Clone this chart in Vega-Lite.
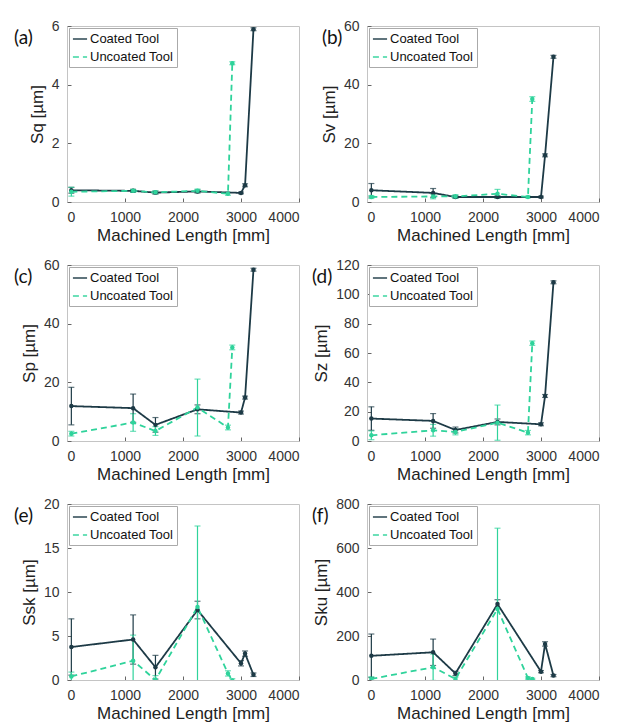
{
  "$schema": "https://vega.github.io/schema/vega-lite/v6.json",
  "background": "white",
  "padding": {"left": 13, "top": 18, "right": 5, "bottom": 5},
  "data": {"values": [
    {"p": "a", "t": "Coated Tool", "x": 75, "y": 0.40, "e": 0.10},
    {"p": "a", "t": "Coated Tool", "x": 1140, "y": 0.38, "e": 0.05},
    {"p": "a", "t": "Coated Tool", "x": 1525, "y": 0.32, "e": 0.05},
    {"p": "a", "t": "Coated Tool", "x": 2250, "y": 0.36, "e": 0.05},
    {"p": "a", "t": "Coated Tool", "x": 3000, "y": 0.31, "e": 0.03},
    {"p": "a", "t": "Coated Tool", "x": 3070, "y": 0.57, "e": 0.05},
    {"p": "a", "t": "Coated Tool", "x": 3215, "y": 5.89, "e": 0.05},
    {"p": "a", "t": "Uncoated Tool", "x": 75, "y": 0.35, "e": 0.15},
    {"p": "a", "t": "Uncoated Tool", "x": 1140, "y": 0.38, "e": 0.05},
    {"p": "a", "t": "Uncoated Tool", "x": 1525, "y": 0.33, "e": 0.05},
    {"p": "a", "t": "Uncoated Tool", "x": 2250, "y": 0.38, "e": 0.06},
    {"p": "a", "t": "Uncoated Tool", "x": 2775, "y": 0.28, "e": 0.05},
    {"p": "a", "t": "Uncoated Tool", "x": 2850, "y": 4.73, "e": 0.05},

    {"p": "b", "t": "Coated Tool", "x": 75, "y": 4.0, "e": 2.3},
    {"p": "b", "t": "Coated Tool", "x": 1140, "y": 3.1, "e": 1.5},
    {"p": "b", "t": "Coated Tool", "x": 1525, "y": 1.7, "e": 0.4},
    {"p": "b", "t": "Coated Tool", "x": 2250, "y": 1.7, "e": 0.4},
    {"p": "b", "t": "Coated Tool", "x": 3000, "y": 1.7, "e": 0.3},
    {"p": "b", "t": "Coated Tool", "x": 3070, "y": 15.9, "e": 0.5},
    {"p": "b", "t": "Coated Tool", "x": 3215, "y": 49.5, "e": 0.5},
    {"p": "b", "t": "Uncoated Tool", "x": 75, "y": 1.7, "e": 0.5},
    {"p": "b", "t": "Uncoated Tool", "x": 1140, "y": 1.9, "e": 0.8},
    {"p": "b", "t": "Uncoated Tool", "x": 1525, "y": 1.9, "e": 0.6},
    {"p": "b", "t": "Uncoated Tool", "x": 2250, "y": 2.8, "e": 1.5},
    {"p": "b", "t": "Uncoated Tool", "x": 2775, "y": 1.7, "e": 0.3},
    {"p": "b", "t": "Uncoated Tool", "x": 2850, "y": 35.1, "e": 0.8},

    {"p": "c", "t": "Coated Tool", "x": 75, "y": 11.9, "e": 6.4},
    {"p": "c", "t": "Coated Tool", "x": 1140, "y": 11.2, "e": 4.8},
    {"p": "c", "t": "Coated Tool", "x": 1525, "y": 5.5, "e": 2.5},
    {"p": "c", "t": "Coated Tool", "x": 2250, "y": 10.8, "e": 1.5},
    {"p": "c", "t": "Coated Tool", "x": 3000, "y": 9.7, "e": 0.5},
    {"p": "c", "t": "Coated Tool", "x": 3070, "y": 14.8, "e": 0.5},
    {"p": "c", "t": "Coated Tool", "x": 3215, "y": 58.4, "e": 0.5},
    {"p": "c", "t": "Uncoated Tool", "x": 75, "y": 2.5, "e": 0.8},
    {"p": "c", "t": "Uncoated Tool", "x": 1140, "y": 6.3, "e": 3.0},
    {"p": "c", "t": "Uncoated Tool", "x": 1525, "y": 3.4, "e": 1.5},
    {"p": "c", "t": "Uncoated Tool", "x": 2250, "y": 11.4, "e": 9.7},
    {"p": "c", "t": "Uncoated Tool", "x": 2775, "y": 4.6, "e": 0.8},
    {"p": "c", "t": "Uncoated Tool", "x": 2850, "y": 31.9, "e": 0.8},

    {"p": "d", "t": "Coated Tool", "x": 75, "y": 15.3, "e": 8},
    {"p": "d", "t": "Coated Tool", "x": 1140, "y": 13.7, "e": 5},
    {"p": "d", "t": "Coated Tool", "x": 1525, "y": 7.5, "e": 2},
    {"p": "d", "t": "Coated Tool", "x": 2250, "y": 13.0, "e": 2},
    {"p": "d", "t": "Coated Tool", "x": 3000, "y": 11.4, "e": 1},
    {"p": "d", "t": "Coated Tool", "x": 3070, "y": 30.7, "e": 1},
    {"p": "d", "t": "Coated Tool", "x": 3215, "y": 108.2, "e": 1},
    {"p": "d", "t": "Uncoated Tool", "x": 75, "y": 3.9, "e": 3},
    {"p": "d", "t": "Uncoated Tool", "x": 1140, "y": 7.3, "e": 4},
    {"p": "d", "t": "Uncoated Tool", "x": 1525, "y": 6.2, "e": 2},
    {"p": "d", "t": "Uncoated Tool", "x": 2250, "y": 12.5, "e": 12},
    {"p": "d", "t": "Uncoated Tool", "x": 2775, "y": 5.7, "e": 1.5},
    {"p": "d", "t": "Uncoated Tool", "x": 2850, "y": 66.7, "e": 1.5},

    {"p": "e", "t": "Coated Tool", "x": 75, "y": 3.75, "e": 3.2},
    {"p": "e", "t": "Coated Tool", "x": 1140, "y": 4.6, "e": 2.8},
    {"p": "e", "t": "Coated Tool", "x": 1525, "y": 1.45, "e": 1.35},
    {"p": "e", "t": "Coated Tool", "x": 2250, "y": 7.95, "e": 1.0},
    {"p": "e", "t": "Coated Tool", "x": 3000, "y": 1.9, "e": 0.3},
    {"p": "e", "t": "Coated Tool", "x": 3070, "y": 3.0, "e": 0.3},
    {"p": "e", "t": "Coated Tool", "x": 3215, "y": 0.6, "e": 0.2},
    {"p": "e", "t": "Uncoated Tool", "x": 75, "y": 0.4, "e": 0.5},
    {"p": "e", "t": "Uncoated Tool", "x": 1140, "y": 2.2, "e": 2.9},
    {"p": "e", "t": "Uncoated Tool", "x": 1525, "y": 0.0, "e": 0.5},
    {"p": "e", "t": "Uncoated Tool", "x": 2250, "y": 8.3, "e": 9.2},
    {"p": "e", "t": "Uncoated Tool", "x": 2775, "y": 0.75, "e": 0.3},
    {"p": "e", "t": "Uncoated Tool", "x": 2850, "y": -0.05, "e": 0.2},

    {"p": "f", "t": "Coated Tool", "x": 75, "y": 110, "e": 99},
    {"p": "f", "t": "Coated Tool", "x": 1140, "y": 126, "e": 60},
    {"p": "f", "t": "Coated Tool", "x": 1525, "y": 30, "e": 10},
    {"p": "f", "t": "Coated Tool", "x": 2250, "y": 345, "e": 20},
    {"p": "f", "t": "Coated Tool", "x": 3000, "y": 38, "e": 5},
    {"p": "f", "t": "Coated Tool", "x": 3070, "y": 164, "e": 10},
    {"p": "f", "t": "Coated Tool", "x": 3215, "y": 20, "e": 5},
    {"p": "f", "t": "Uncoated Tool", "x": 75, "y": 5, "e": 10},
    {"p": "f", "t": "Uncoated Tool", "x": 1140, "y": 58, "e": 60},
    {"p": "f", "t": "Uncoated Tool", "x": 1525, "y": 5, "e": 8},
    {"p": "f", "t": "Uncoated Tool", "x": 2250, "y": 323, "e": 367},
    {"p": "f", "t": "Uncoated Tool", "x": 2775, "y": 9, "e": 5},
    {"p": "f", "t": "Uncoated Tool", "x": 2850, "y": 5, "e": 3}
  ]},
  "config": {
    "font": "Liberation Sans",
    "view": {"stroke": "#c4c4c4", "strokeWidth": 1},
    "axis": {"grid": false, "domainColor": "#c4c4c4", "tickColor": "#666", "tickSize": -4, "labelPadding": 12, "labelFontSize": 14, "titleFontSize": 17, "titleFontWeight": "normal", "labelColor": "#333", "titleColor": "#222", "labelFont": "Liberation Sans", "titleFont": "Liberation Sans"},
    "axisX": {"titlePadding": 3, "format": "d"},
    "axisY": {"titlePadding": 5},
    "legend": {"orient": "top-left", "offset": 2, "labelFontSize": 13, "labelColor": "#111", "strokeColor": "#aaa", "fillColor": "white", "padding": 3, "rowPadding": 3, "symbolType": "stroke", "symbolSize": 200, "symbolStrokeWidth": 1.8, "labelOffset": 2, "cornerRadius": 0, "labelFont": "Liberation Sans"},
    "title": {"anchor": "start", "frame": "group", "orient": "top", "offset": 0, "baseline": "top", "dy": 33, "font": "Lato", "fontSize": 19, "fontWeight": "normal", "color": "#111"}
  },
  "columns": 2,
  "spacing": {"row": 63, "column": 68},
  "bounds": "flush",
  "resolve": {
    "scale": {"x": "independent", "y": "independent", "color": "independent", "strokeDash": "independent"},
    "axis": {"x": "independent", "y": "independent"},
    "legend": {"color": "independent", "strokeDash": "independent"}
  },
  "concat": [
    {
      "width": 232, "height": 176,
      "title": {"text": "(a)", "dx": -53},
      "transform": [{"filter": "datum.p === 'a'"}],
      "encoding": {
        "x": {"field": "x", "type": "quantitative", "scale": {"domain": [0, 4000], "nice": false}, "axis": {"title": "Machined Length [mm]", "values": [0, 1000, 2000, 3000, 4000]}},
        "y": {"field": "y", "type": "quantitative", "scale": {"domain": [0, 6], "nice": false}, "axis": {"title": "Sq [µm]", "values": [0, 2, 4, 6]}},
        "color": {"field": "t", "type": "nominal", "scale": {"domain": ["Coated Tool", "Uncoated Tool"], "range": ["#1d3a46", "#2fd39b"]}, "legend": {"title": null, "symbolType": "stroke"}}
      },
      "layer": [
        {"mark": {"type": "errorbar", "ticks": {"size": 6}, "thickness": 1.2, "clip": true}, "encoding": {"yError": {"field": "e"}}},
        {"mark": {"type": "line", "strokeWidth": 1.8, "clip": true}, "encoding": {"strokeDash": {"field": "t", "type": "nominal", "scale": {"domain": ["Coated Tool", "Uncoated Tool"], "range": [[1, 0], [6, 4]]}, "legend": {"title": null, "symbolType": "stroke"}}}},
        {"mark": {"type": "point", "filled": true, "size": 20, "opacity": 1, "clip": true}}
      ]
    },
    {
      "width": 232, "height": 176,
      "title": {"text": "(b)", "dx": -45},
      "transform": [{"filter": "datum.p === 'b'"}],
      "encoding": {
        "x": {"field": "x", "type": "quantitative", "scale": {"domain": [0, 4000], "nice": false}, "axis": {"title": "Machined Length [mm]", "values": [0, 1000, 2000, 3000, 4000]}},
        "y": {"field": "y", "type": "quantitative", "scale": {"domain": [0, 60], "nice": false}, "axis": {"title": "Sv [µm]", "values": [0, 20, 40, 60]}},
        "color": {"field": "t", "type": "nominal", "scale": {"domain": ["Coated Tool", "Uncoated Tool"], "range": ["#1d3a46", "#2fd39b"]}, "legend": {"title": null, "symbolType": "stroke"}}
      },
      "layer": [
        {"mark": {"type": "errorbar", "ticks": {"size": 6}, "thickness": 1.2, "clip": true}, "encoding": {"yError": {"field": "e"}}},
        {"mark": {"type": "line", "strokeWidth": 1.8, "clip": true}, "encoding": {"strokeDash": {"field": "t", "type": "nominal", "scale": {"domain": ["Coated Tool", "Uncoated Tool"], "range": [[1, 0], [6, 4]]}, "legend": {"title": null, "symbolType": "stroke"}}}},
        {"mark": {"type": "point", "filled": true, "size": 20, "opacity": 1, "clip": true}}
      ]
    },
    {
      "width": 232, "height": 176,
      "title": {"text": "(c)", "dx": -53},
      "transform": [{"filter": "datum.p === 'c'"}],
      "encoding": {
        "x": {"field": "x", "type": "quantitative", "scale": {"domain": [0, 4000], "nice": false}, "axis": {"title": "Machined Length [mm]", "values": [0, 1000, 2000, 3000, 4000]}},
        "y": {"field": "y", "type": "quantitative", "scale": {"domain": [0, 60], "nice": false}, "axis": {"title": "Sp [µm]", "values": [0, 20, 40, 60]}},
        "color": {"field": "t", "type": "nominal", "scale": {"domain": ["Coated Tool", "Uncoated Tool"], "range": ["#1d3a46", "#2fd39b"]}, "legend": {"title": null, "symbolType": "stroke"}}
      },
      "layer": [
        {"mark": {"type": "errorbar", "ticks": {"size": 6}, "thickness": 1.2, "clip": true}, "encoding": {"yError": {"field": "e"}}},
        {"mark": {"type": "line", "strokeWidth": 1.8, "clip": true}, "encoding": {"strokeDash": {"field": "t", "type": "nominal", "scale": {"domain": ["Coated Tool", "Uncoated Tool"], "range": [[1, 0], [6, 4]]}, "legend": {"title": null, "symbolType": "stroke"}}}},
        {"mark": {"type": "point", "filled": true, "size": 20, "opacity": 1, "clip": true}}
      ]
    },
    {
      "width": 232, "height": 176,
      "title": {"text": "(d)", "dx": -55},
      "transform": [{"filter": "datum.p === 'd'"}],
      "encoding": {
        "x": {"field": "x", "type": "quantitative", "scale": {"domain": [0, 4000], "nice": false}, "axis": {"title": "Machined Length [mm]", "values": [0, 1000, 2000, 3000, 4000]}},
        "y": {"field": "y", "type": "quantitative", "scale": {"domain": [0, 120], "nice": false}, "axis": {"title": "Sz [µm]", "values": [0, 20, 40, 60, 80, 100, 120]}},
        "color": {"field": "t", "type": "nominal", "scale": {"domain": ["Coated Tool", "Uncoated Tool"], "range": ["#1d3a46", "#2fd39b"]}, "legend": {"title": null, "symbolType": "stroke"}}
      },
      "layer": [
        {"mark": {"type": "errorbar", "ticks": {"size": 6}, "thickness": 1.2, "clip": true}, "encoding": {"yError": {"field": "e"}}},
        {"mark": {"type": "line", "strokeWidth": 1.8, "clip": true}, "encoding": {"strokeDash": {"field": "t", "type": "nominal", "scale": {"domain": ["Coated Tool", "Uncoated Tool"], "range": [[1, 0], [6, 4]]}, "legend": {"title": null, "symbolType": "stroke"}}}},
        {"mark": {"type": "point", "filled": true, "size": 20, "opacity": 1, "clip": true}}
      ]
    },
    {
      "width": 232, "height": 176,
      "title": {"text": "(e)", "dx": -53},
      "transform": [{"filter": "datum.p === 'e'"}],
      "encoding": {
        "x": {"field": "x", "type": "quantitative", "scale": {"domain": [0, 4000], "nice": false}, "axis": {"title": "Machined Length [mm]", "values": [0, 1000, 2000, 3000, 4000]}},
        "y": {"field": "y", "type": "quantitative", "scale": {"domain": [0, 20], "nice": false}, "axis": {"title": "Ssk [µm]", "values": [0, 5, 10, 15, 20]}},
        "color": {"field": "t", "type": "nominal", "scale": {"domain": ["Coated Tool", "Uncoated Tool"], "range": ["#1d3a46", "#2fd39b"]}, "legend": {"title": null, "symbolType": "stroke"}}
      },
      "layer": [
        {"mark": {"type": "errorbar", "ticks": {"size": 6}, "thickness": 1.2, "clip": true}, "encoding": {"yError": {"field": "e"}}},
        {"mark": {"type": "line", "strokeWidth": 1.8, "clip": true}, "encoding": {"strokeDash": {"field": "t", "type": "nominal", "scale": {"domain": ["Coated Tool", "Uncoated Tool"], "range": [[1, 0], [6, 4]]}, "legend": {"title": null, "symbolType": "stroke"}}}},
        {"mark": {"type": "point", "filled": true, "size": 20, "opacity": 1, "clip": true}}
      ]
    },
    {
      "width": 232, "height": 176,
      "title": {"text": "(f)", "dx": -55},
      "transform": [{"filter": "datum.p === 'f'"}],
      "encoding": {
        "x": {"field": "x", "type": "quantitative", "scale": {"domain": [0, 4000], "nice": false}, "axis": {"title": "Machined Length [mm]", "values": [0, 1000, 2000, 3000, 4000]}},
        "y": {"field": "y", "type": "quantitative", "scale": {"domain": [0, 800], "nice": false}, "axis": {"title": "Sku [µm]", "values": [0, 200, 400, 600, 800]}},
        "color": {"field": "t", "type": "nominal", "scale": {"domain": ["Coated Tool", "Uncoated Tool"], "range": ["#1d3a46", "#2fd39b"]}, "legend": {"title": null, "symbolType": "stroke"}}
      },
      "layer": [
        {"mark": {"type": "errorbar", "ticks": {"size": 6}, "thickness": 1.2, "clip": true}, "encoding": {"yError": {"field": "e"}}},
        {"mark": {"type": "line", "strokeWidth": 1.8, "clip": true}, "encoding": {"strokeDash": {"field": "t", "type": "nominal", "scale": {"domain": ["Coated Tool", "Uncoated Tool"], "range": [[1, 0], [6, 4]]}, "legend": {"title": null, "symbolType": "stroke"}}}},
        {"mark": {"type": "point", "filled": true, "size": 20, "opacity": 1, "clip": true}}
      ]
    }
  ]
}
